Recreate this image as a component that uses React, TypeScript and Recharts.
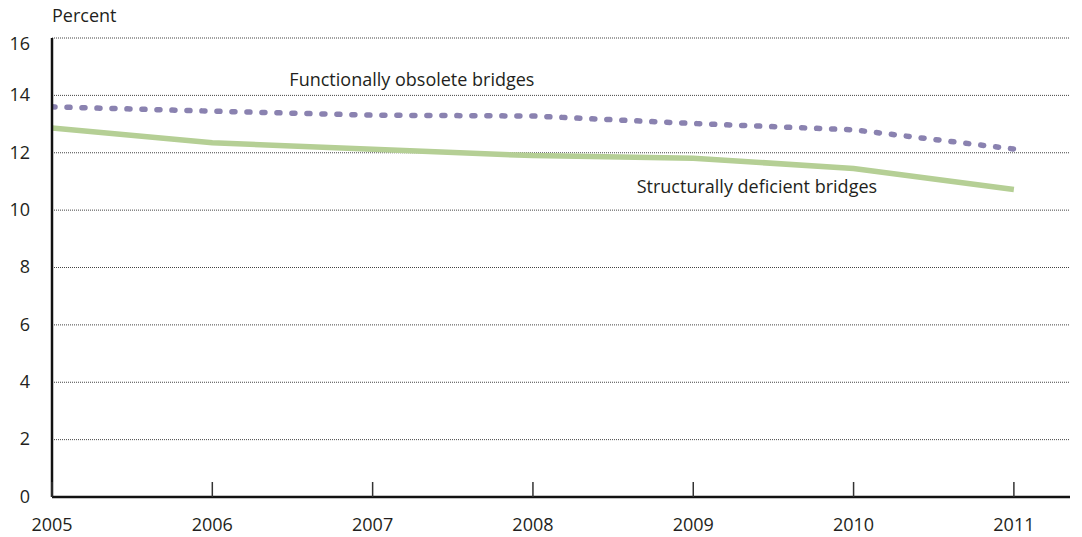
import React from 'react';
import { LineChart, Line, XAxis, YAxis, CartesianGrid, ReferenceDot } from 'recharts';

const years = [2005, 2006, 2007, 2008, 2009, 2010, 2011];
const functionallyObsolete = [13.6, 13.45, 13.31, 13.28, 13.02, 12.8, 12.13];
const structurallyDeficient = [12.86, 12.35, 12.12, 11.9, 11.81, 11.45, 10.72];
const yTicks = [0, 2, 4, 6, 8, 10, 12, 14, 16];

const data = years.map((year, i) => ({
  year,
  fo: functionallyObsolete[i],
  sd: structurallyDeficient[i],
}));

const FONT = '"Open Sans", "Noto Sans", sans-serif';
const TEXT = '#231f20';
const FS = 18;

const XTick = (props: any) => {
  const { x, y, payload } = props;
  return (
    <g>
      <line x1={x} x2={x} y1={y} y2={y - 15} stroke="#333" strokeWidth={1.5} />
      <text x={x} y={y + 29} textAnchor="middle" dominantBaseline="middle" fill={TEXT} fontSize={FS} fontFamily={FONT}>
        {payload.value}
      </text>
    </g>
  );
};

const YTick = (props: any) => {
  const { x, y, payload } = props;
  const dy = payload.value === 16 ? 7 : 1;
  return (
    <text x={x} y={y + dy} textAnchor="end" dominantBaseline="middle" fill={TEXT} fontSize={FS} fontFamily={FONT}>
      {payload.value}
    </text>
  );
};

const SeriesLabel = (text: string) => (props: any) => {
  const { viewBox } = props;
  const cx = viewBox.x + (viewBox.width || 0) / 2;
  const cy = viewBox.y + (viewBox.height || 0) / 2;
  return (
    <text x={cx} y={cy} textAnchor="middle" dominantBaseline="middle" fill={TEXT} fontSize={FS} fontFamily={FONT}>
      {text}
    </text>
  );
};

export default function App() {
  return (
    <div style={{ position: 'absolute', left: 0, top: 0, width: 1082, height: 537, background: '#fff' }}>
      <LineChart width={1082} height={537} data={data} margin={{ top: 38, right: 12, bottom: 0, left: 0 }}>
        <CartesianGrid vertical={false} stroke="#444" strokeDasharray="1 1" strokeWidth={1} />
        <XAxis
          dataKey="year"
          type="number"
          domain={[2005, 2011.35]}
          ticks={years}
          height={40}
          tickSize={0}
          tickMargin={0}
          tickLine={false}
          axisLine={{ stroke: '#111', strokeWidth: 2.5 }}
          tick={<XTick />}
          allowDataOverflow
        />
        <YAxis
          domain={[0, 16]}
          ticks={yTicks}
          width={52}
          tickSize={0}
          tickMargin={22}
          tickLine={false}
          axisLine={{ stroke: '#111', strokeWidth: 2.5 }}
          tick={<YTick />}
          label={{ value: 'Percent', position: 'top', offset: 0, content: () => (
            <text x={52} y={17} dominantBaseline="middle" fill={TEXT} fontSize={FS} fontFamily={FONT}>Percent</text>
          ) }}
        />
        <Line
          type="linear"
          dataKey="sd"
          stroke="#b5cf95"
          strokeWidth={5.5}
          dot={false}
          isAnimationActive={false}
        />
        <Line
          type="linear"
          dataKey="fo"
          stroke="#8a82b0"
          strokeWidth={5.5}
          strokeDasharray="3 12"
          strokeLinecap="round"
          dot={false}
          isAnimationActive={false}
        />
        <ReferenceDot x={2007.245} y={14.51} r={0} fill="none" stroke="none" ifOverflow="visible" label={SeriesLabel('Functionally obsolete bridges')} />
        <ReferenceDot x={2009.397} y={10.78} r={0} fill="none" stroke="none" ifOverflow="visible" label={SeriesLabel('Structurally deficient bridges')} />
      </LineChart>
    </div>
  );
}
